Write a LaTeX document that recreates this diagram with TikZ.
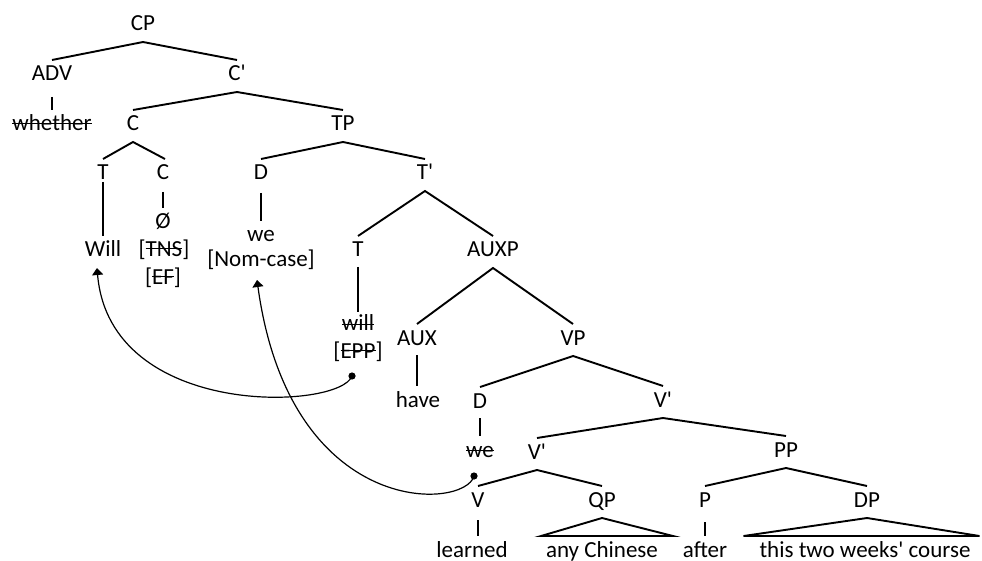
\documentclass[tikz,border=0pt]{standalone}
\usepackage{fontspec}
\setmainfont[Ligatures=TeXOff]{Carlito}
\usetikzlibrary{arrows.meta}
% struck-through text: optional argument is the height of the bar
\newsavebox\strkbox
\newcommand\strk[2][0.3em]{\sbox\strkbox{#2}\rlap{\rule[#1]{\wd\strkbox}{1.5pt}}\usebox\strkbox}

\begin{document}
\begin{tikzpicture}[x=1pt,y=-1pt,
  lab/.style={inner sep=0pt, outer sep=0pt, outer ysep=6.5pt,
              text height=14.5pt, text depth=4.5pt, anchor=base,
              font=\fontsize{23}{27}\selectfont},
  branch/.style={line width=1.9pt},
  move/.style={line width=1.2pt, -{Triangle[length=7pt,width=11pt]}},
  trace/.style={fill=black}]
\useasboundingbox (0,0) rectangle (982,561);

% ---- labels (placed by baseline) ----
\node[lab] (CP)   at (143,31)  {CP};
\node[lab] (ADV)  at (52,81)   {ADV};
\node[lab] (Cb)   at (237,81)  {C'};
\node[lab] (whether) at (52,131) {\strk{whether}};
\node[lab] (C0)   at (133,131) {C};
\node[lab] (TP)   at (343,131) {TP};
\node[lab] (T0)   at (103,180) {T};
\node[lab] (C1)   at (163,180) {C};
\node[lab] (D0)   at (261,180) {D};
\node[lab] (Tb)   at (425,180) {T'};
\node[lab] (null) at (163,229) {Ø};
\node[lab] (Will) at (103,257) {Will};
\node[lab] (tns)  at (164,257) {[\strk[0.33em]{TNS}]};
\node[lab] (ef)   at (163,284) {[\strk{EF}]};
\node[lab] (we)   at (261,242) {we};
\node[lab] (nom)  at (261,267) {[Nom-case]};
\node[lab] (T1)   at (358,257) {T};
\node[lab] (AUXP) at (493,257) {AUXP};
\node[lab] (will) at (358,330) {\strk[0.2em]{will}};
\node[lab] (epp)  at (358,358) {[\strk{EPP}]};
\node[lab] (AUX)  at (417,345) {AUX};
\node[lab] (VP)   at (573,345) {VP};
\node[lab] (have) at (418,407) {have};
\node[lab] (D2)   at (480,408) {D};
\node[lab] (Vb)   at (663,407) {V'};
\node[lab] (we2)  at (480,457) {\strk[0.24em]{we}};
\node[lab] (Vb2)  at (537,459) {V'};
\node[lab] (PP)   at (786,457) {PP};
\node[lab] (V)    at (478,507) {V};
\node[lab] (QP)   at (602,507) {QP};
\node[lab] (P)    at (705,507) {P};
\node[lab] (DP)   at (867,507) {DP};
\node[lab] (learned) at (472,557) {learned};
\node[lab] (anyC) at (602,557) {any Chinese};
\node[lab] (after) at (705,557) {after};
\node[lab] (course) at (865,557) {this two weeks' course};

% ---- branches ----
\draw[branch] (ADV.north) -- (CP.south) -- (Cb.north);
\draw[branch] ([yshift=-5pt]ADV.south) -- (ADV.south |- whether.north);
\draw[branch] (C0.north) -- (Cb.south) -- (TP.north);
\draw[branch] (T0.north) -- (C0.south) -- ([xshift=2pt]C1.north);
\draw[branch] ([yshift=9pt]T0.south) -- (T0.south |- Will.north);
\draw[branch] ([yshift=-1pt]C1.south) -- (C1.south |- null.north);
\draw[branch] (D0.north) -- (TP.south) -- (Tb.north);
\draw[branch] ([yshift=-2pt]D0.south) -- (D0.south |- we.north);
\draw[branch] (T1.north) -- (Tb.south) -- (AUXP.north);
\draw[branch] ([yshift=1pt]T1.south) -- ([yshift=-3pt]T1.south |- will.north);
\draw[branch] (AUX.north) -- (AUXP.south) -- (VP.north);
\draw[branch] ([yshift=1pt]AUX.south) -- (AUX.south |- have.north);
\draw[branch] (D2.north) -- (VP.south) -- (Vb.north);
\draw[branch] ([yshift=1pt]D2.south) -- (D2.south |- we2.north);
\draw[branch] (Vb2.north) -- (Vb.south) -- (PP.north);
\draw[branch] (V.north) -- (Vb2.south) -- (QP.north);
\draw[branch] ([yshift=-2pt]V.south) -- (V.south |- learned.north);
\draw[branch] (P.north) -- (PP.south) -- (DP.north);
\draw[branch] ([yshift=-4pt]P.south) -- (P.south |- after.north);
\draw[branch] (QP.south) -- ([xshift=-5pt]anyC.north west) -- ([xshift=15pt]anyC.north east) -- cycle;
\draw[branch] (DP.south) -- ([xshift=-16pt]course.north west) -- ([xshift=9pt]course.north east) -- cycle;

% ---- movement ----
\coordinate (d1) at (352,376);
\coordinate (d2) at (474,476);
\fill[trace] (d1) circle (3.6pt);
\fill[trace] (d2) circle (3.6pt);
\draw[move] (d1) .. controls (340,410) and (110,420) .. ([xshift=-6pt]Will.south);
\draw[move] (d2) .. controls (465,510) and (290,520) .. ([xshift=-4pt,yshift=-2pt]nom.south);
\end{tikzpicture}
\end{document}
